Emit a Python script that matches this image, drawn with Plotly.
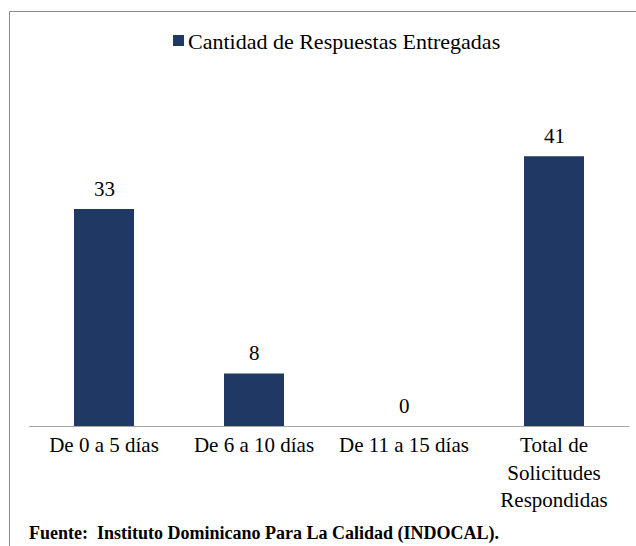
import plotly.graph_objects as go

categories = ["De 0 a 5 días", "De 6 a 10 días", "De 11 a 15 días", "Total de<br>Solicitudes<br>Respondidas"]
values = [33, 8, 0, 41]
series_name = "Cantidad de Respuestas Entregadas"
source_text = "<b>Fuente:  Instituto Dominicano Para La Calidad (INDOCAL).</b>"
bar_color = "#1F3864"

W, H = 636, 546
L, R, T, B = 29, 7, 130, 120
pw, ph = W - L - R, H - T - B

def px_x(p):
    return (p - L) / pw

def px_y(p):
    return (H - B - p) / ph

font = "Liberation Serif"

fig = go.Figure(go.Bar(
    x=categories, y=values, name=series_name,
    marker=dict(color=bar_color, line=dict(width=0)),
    width=0.4,
    cliponaxis=False,
    showlegend=False,
))

value_labels = [dict(text=str(v), x=c, y=v, xref="x", yref="y", xanchor="center", yanchor="bottom",
                     yshift=6, showarrow=False, font=dict(size=21, family=font, color="black"))
                for c, v in zip(categories, values)]

fig.update_layout(
    width=W, height=H,
    margin=dict(l=L, r=R, t=T, b=B),
    paper_bgcolor="white", plot_bgcolor="white",
    font=dict(family=font, size=21, color="black"),
    xaxis=dict(showline=True, linecolor="#A6A6A6", linewidth=1, ticks="", showgrid=False,
               tickfont=dict(size=21, family=font), range=[-0.5, 3.5]),
    yaxis=dict(visible=False, range=[0, 45]),
    shapes=[
        dict(type="rect", xref="paper", yref="paper",
             x0=px_x(9.5), x1=px_x(645), y0=px_y(560), y1=px_y(11.5),
             line=dict(color="#8C8C8C", width=1), fillcolor="rgba(0,0,0,0)", layer="below"),
        dict(type="rect", xref="paper", yref="paper",
             x0=px_x(173), x1=px_x(184), y0=px_y(46), y1=px_y(35),
             line=dict(width=0), fillcolor=bar_color),
    ],
    annotations=value_labels + [
        dict(text=series_name, xref="paper", yref="paper", x=px_x(186), y=px_y(41),
             xanchor="left", yanchor="middle", showarrow=False,
             font=dict(size=22, family=font, color="black")),
        dict(text=source_text, xref="paper", yref="paper", x=px_x(27), y=px_y(533),
             xanchor="left", yanchor="middle", showarrow=False,
             font=dict(size=18, family=font, color="black")),
    ],
)
fig.update_xaxes(automargin=False)

fig.write_html("out.html", config={"displayModeBar": False},
               post_script="document.body.style.margin='0';")
